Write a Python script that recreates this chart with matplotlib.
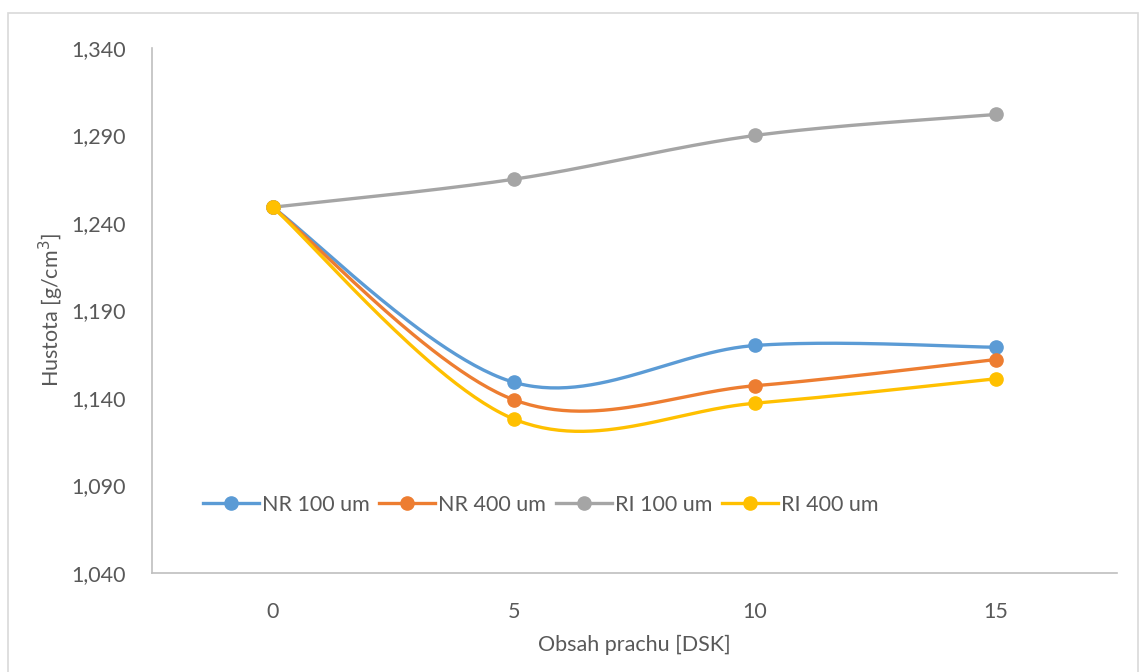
import numpy as np
import matplotlib.pyplot as plt
from matplotlib.patches import Rectangle
from matplotlib.ticker import FuncFormatter

# dust content categories and measured densities
categories = ["0", "5", "10", "15"]
series_names = ["NR 100 um", "NR 400 um", "RI 100 um", "RI 400 um"]
nr_100 = [1.249, 1.149, 1.170, 1.169]
nr_400 = [1.249, 1.139, 1.147, 1.162]
ri_100 = [1.249, 1.265, 1.290, 1.302]
ri_400 = [1.249, 1.128, 1.137, 1.151]
colors = ["#5B9BD5", "#ED7D31", "#A5A5A5", "#FFC000"]

plt.rcParams["font.family"] = ["Lato", "DejaVu Sans"]
TEXT = "#595959"

fig = plt.figure(figsize=(11.44, 6.72), dpi=100)
ax = fig.add_axes([0.133, 0.1473, 0.843, 0.7813])

# outer chart border
fig.patches.append(Rectangle((0.007, -0.05), 0.988, 1.03, transform=fig.transFigure,
                             fill=False, edgecolor="#D9D9D9", linewidth=1.2))

ymin, ymax = 1.040, 1.340
ax.set_xlim(-0.5, 3.5)
ax.set_ylim(ymin, ymax)

# pixel scale for smoothing in screen space (like office charts do)
bb = ax.get_position()
sx = bb.width * fig.get_figwidth() * fig.dpi / 4.0
sy = bb.height * fig.get_figheight() * fig.dpi / (ymax - ymin)


def smooth(xs, ys, n=60):
    px = np.array(xs, float) * sx
    py = np.array(ys, float) * sy
    pts = np.column_stack([px, py])
    out = []
    for i in range(len(pts) - 1):
        p0 = pts[max(i - 1, 0)]
        p1 = pts[i]
        p2 = pts[i + 1]
        p3 = pts[min(i + 2, len(pts) - 1)]
        c1 = p1 + (p2 - p0) / 6.0
        c2 = p2 - (p3 - p1) / 6.0
        t = np.linspace(0, 1, n)[:, None]
        seg = ((1 - t) ** 3) * p1 + 3 * ((1 - t) ** 2) * t * c1 + 3 * (1 - t) * t ** 2 * c2 + t ** 3 * p2
        out.append(seg if i == 0 else seg[1:])
    seg = np.vstack(out)
    return seg[:, 0] / sx, seg[:, 1] / sy


x = np.arange(len(categories))
for name, vals, c in zip(series_names, [nr_100, nr_400, ri_100, ri_400], colors):
    xs, ys = smooth(x, vals)
    ax.plot(xs, ys, color=c, lw=2.4, solid_capstyle="round")
    ax.plot(x, vals, "o", color=c, ms=9.5)
    ax.plot([], [], color=c, lw=2.4, marker="o", ms=9.5, label=name)

ax.set_xticks(x)
ax.set_xticklabels(categories)
ax.set_yticks(np.arange(ymin, ymax + 0.001, 0.05))
ax.yaxis.set_major_formatter(FuncFormatter(lambda v, p: f"{v:.3f}".replace(".", ",")))
ax.tick_params(length=0, labelsize=15.5, colors=TEXT)
ax.tick_params(axis="x", pad=21)
ax.tick_params(axis="y", pad=19)

for s in ["top", "right"]:
    ax.spines[s].set_visible(False)
ax.spines["left"].set_color("#BFBFBF")
ax.spines["bottom"].set_color("#BFBFBF")
ax.spines["left"].set_linewidth(1.2)
ax.spines["bottom"].set_linewidth(1.2)

ax.set_xlabel("Obsah prachu [DSK]", fontsize=15.5, color=TEXT, labelpad=9)
ax.set_ylabel("Hustota [g/cm$^3$]", fontsize=15.5, color=TEXT, labelpad=4)

ax.legend(loc="center", bbox_to_anchor=(0.403, 0.1295), ncol=4, frameon=False,
          fontsize=15.5, labelcolor=TEXT, handlelength=2.6, handletextpad=0.15,
          columnspacing=0.45)

fig.savefig("out.png", dpi=100)
